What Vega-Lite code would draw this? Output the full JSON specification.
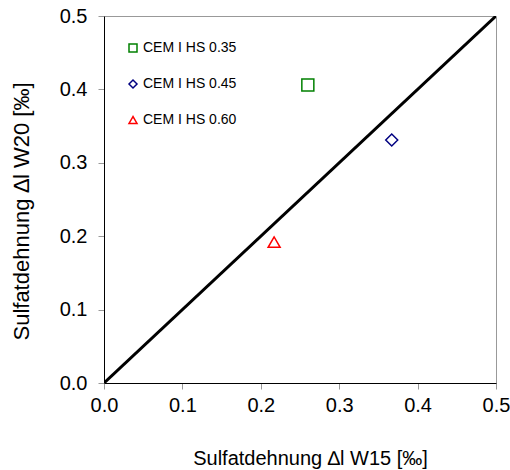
{
  "$schema": "https://vega.github.io/schema/vega-lite/v6.json",
  "autosize": "none",
  "width": 392,
  "height": 367,
  "padding": {"left": 104, "top": 16, "right": 14, "bottom": 87},
  "background": "white",
  "config": {
    "font": "Liberation Sans",
    "view": {"stroke": "#999999", "strokeWidth": 1},
    "axis": {
      "grid": false,
      "domainColor": "black",
      "domainWidth": 1,
      "tickColor": "#999999",
      "tickSize": 6,
      "labelFlush": false,
      "labelFont": "Liberation Sans",
      "titleFont": "Liberation Sans",
      "labelFontSize": 20,
      "titleFontSize": 20,
      "labelColor": "black",
      "titleColor": "black",
      "titleFontWeight": "normal"
    },
    "legend": {
      "orient": "none",
      "legendX": 22,
      "legendY": 25,
      "labelFontSize": 14,
      "labelFont": "Liberation Sans",
      "labelColor": "black",
      "symbolSize": 64,
      "symbolStrokeWidth": 1.5,
      "rowPadding": 22,
      "labelOffset": 3
    }
  },
  "datasets": {
    "pts": [
      {"w15": 0.260, "w20": 0.406, "Serie": "CEM I HS 0.35"},
      {"w15": 0.367, "w20": 0.331, "Serie": "CEM I HS 0.45"},
      {"w15": 0.217, "w20": 0.192, "Serie": "CEM I HS 0.60"}
    ],
    "diag": [
      {"w15": 0, "w20": 0},
      {"w15": 0.5, "w20": 0.5}
    ]
  },
  "layer": [
    {
      "data": {"name": "diag"},
      "mark": {"type": "line", "color": "black", "strokeWidth": 3, "clip": true},
      "encoding": {
        "x": {"field": "w15", "type": "quantitative"},
        "y": {"field": "w20", "type": "quantitative"}
      }
    },
    {
      "data": {"name": "pts"},
      "mark": {"type": "point", "filled": false, "strokeWidth": 1.5, "size": 144, "opacity": 1},
      "encoding": {
        "x": {
          "field": "w15", "type": "quantitative",
          "scale": {"domain": [0, 0.5], "nice": false, "zero": true},
          "axis": {
            "values": [0, 0.1, 0.2, 0.3, 0.4, 0.5],
            "format": ".1f",
            "title": "Sulfatdehnung ∆l W15 [‰]",
            "labelPadding": 6,
            "titlePadding": 33,
            "titleX": 206
          }
        },
        "y": {
          "field": "w20", "type": "quantitative",
          "scale": {"domain": [0, 0.5], "nice": false, "zero": true},
          "axis": {
            "values": [0, 0.1, 0.2, 0.3, 0.4, 0.5],
            "format": ".1f",
            "title": "Sulfatdehnung ∆l W20 [‰]",
            "titleFontSize": 22,
            "titleY": 195,
            "labelPadding": 11,
            "titlePadding": 26
          }
        },
        "shape": {
          "field": "Serie", "type": "nominal",
          "scale": {"domain": ["CEM I HS 0.35", "CEM I HS 0.45", "CEM I HS 0.60"], "range": ["square", "diamond", "triangle-up"]},
          "legend": {"title": null}
        },
        "color": {
          "field": "Serie", "type": "nominal",
          "scale": {"domain": ["CEM I HS 0.35", "CEM I HS 0.45", "CEM I HS 0.60"], "range": ["#008000", "#000080", "#FF0000"]},
          "legend": {"title": null}
        }
      }
    }
  ]
}
